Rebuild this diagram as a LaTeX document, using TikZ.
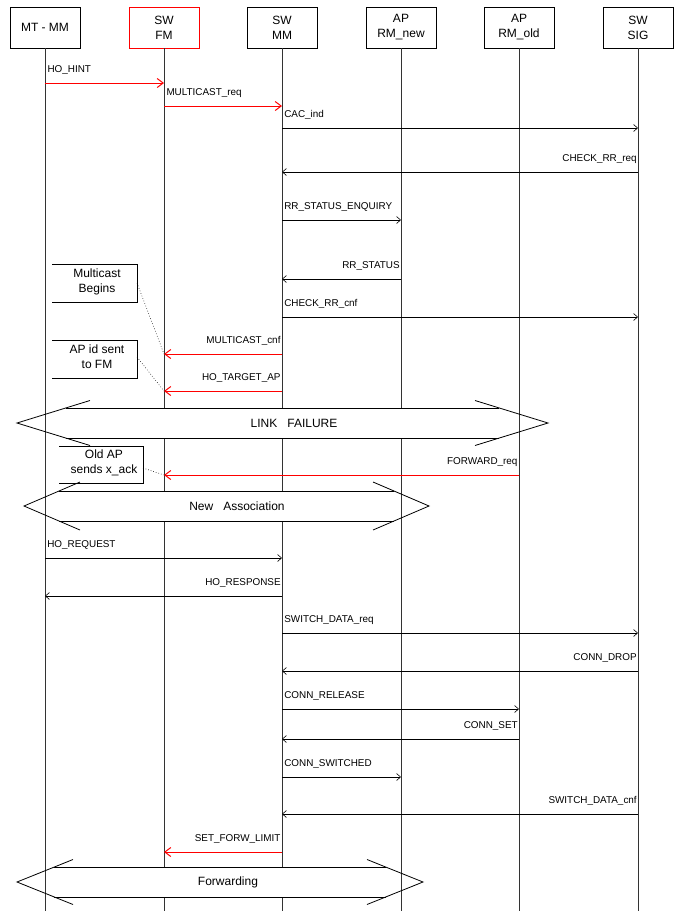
\documentclass[tikz,border=0pt]{standalone}
\usepackage{fontspec}
\setmainfont{Liberation Sans}
\usetikzlibrary{arrows.meta,calc}
\tikzset{
  antet/.style    = {draw, minimum width=70pt, minimum height=41pt, align=center,
                     inner sep=0pt, font=\fontsize{12}{15}\selectfont},
  antetrosu/.style= {antet, draw=red},
  viata/.style    = {draw=black!80, line width=0.6pt},
  mesaj/.style    = {-{Straight Barb[length=4pt,width=7pt]}, line width=0.6pt},
  mesajrosu/.style= {-{Straight Barb[length=6pt,width=9pt]}, red, line width=1pt},
  etdr/.style     = {font=\fontsize{9.9}{11}\selectfont, inner sep=0pt,
                     anchor=base west, shift={(2pt,11pt)}, text=black},
  etst/.style     = {font=\fontsize{9.9}{11}\selectfont, inner sep=0pt,
                     anchor=base east, shift={(-1pt,11pt)}, text=black},
  nota/.style     = {align=center, inner sep=0pt, font=\fontsize{12}{15}\selectfont},
  notalinie/.style= {line width=0.6pt},
  punctat/.style  = {dash pattern=on 0.7pt off 2pt, line width=0.5pt},
  banda/.style    = {line width=0.8pt},
  bandatext/.style= {inner sep=0pt, font=\fontsize{12}{15}\selectfont}
}
% banda: nume, y, varf stanga, varf dreapta, dx, dy, x text, text
\newcommand{\banda}[8]{%
  \pgfmathsetmacro\bh{#5*15/#6}
  \fill[white] (#3+\bh,#2-15) rectangle (#4-\bh,#2+15);
  \draw[banda] (#3+\bh,#2-15) -- (#4-\bh,#2-15) (#3+\bh,#2+15) -- (#4-\bh,#2+15);
  \draw[banda] (#3+#5,#2-#6) -- (#3,#2) -- (#3+#5,#2+#6);
  \draw[banda] (#4-#5,#2-#6) -- (#4,#2) -- (#4-#5,#2+#6);
  \node[bandatext] (#1) at (#7,#2) {#8};
}

\begin{document}
\begin{tikzpicture}[x=1pt, y=-1pt]
  \useasboundingbox (0,0) rectangle (673,911);

  % antete
  \node[antet]     (mtmm)  at (45,27.5)  {MT - MM};
  \node[antetrosu] (swfm)  at (164,27.5) {SW\\FM};
  \node[antet]     (swmm)  at (282,27.5) {SW\\MM};
  \node[antet]     (rmnew) at (401,27.5) {AP\\RM\_new};
  \node[antet]     (rmold) at (519,27.5) {AP\\RM\_old};
  \node[antet]     (swsig) at (638,27.5) {SW\\SIG};

  \foreach \n in {mtmm,swfm,swmm,rmnew,rmold,swsig}
    \draw[viata] (\n.south) -- (\n |- 0,911);

  % mesaje
  \draw[mesajrosu] (mtmm |- 0,83) node[etdr] (hohint) {HO\_HINT} -- (swfm |- 0,83);
  \draw[mesajrosu] (swfm |- 0,106) node[etdr] (mcreq) {MULTICAST\_req} -- (swmm |- 0,106);
  \draw[mesaj] (swmm |- 0,128) node[etdr] (cacind) {CAC\_ind} -- (swsig |- 0,128);
  \draw[mesaj] (swsig |- 0,172) node[etst] (chkreq) {CHECK\_RR\_req} -- (swmm |- 0,172);
  \draw[mesaj] (swmm |- 0,220) node[etdr] (rrenq) {RR\_STATUS\_ENQUIRY} -- (rmnew |- 0,220);
  \draw[mesaj] (rmnew |- 0,279) node[etst] (rrstat) {RR\_STATUS} -- (swmm |- 0,279);
  \draw[mesaj] (swmm |- 0,317) node[etdr] (chkcnf) {CHECK\_RR\_cnf} -- (swsig |- 0,317);
  \draw[mesajrosu] (swmm |- 0,354) node[etst] (mccnf) {MULTICAST\_cnf} -- (swfm |- 0,354);
  \draw[mesajrosu] (swmm |- 0,391) node[etst] (hotarget) {HO\_TARGET\_AP} -- (swfm |- 0,391);

  % note
  \node[nota] (nmc) at (97,282) {Multicast\\Begins};
  \draw[notalinie] (52,264) -| (137,302) -- (52,302);
  \draw[punctat] (137,283) -- (swfm |- 0,354);
  \node[nota] (napid) at (97,357) {AP id sent\\to FM};
  \draw[notalinie] (52,340) -| (137,378) -- (52,378);
  \draw[punctat] (137,357) -- (swfm |- 0,391);

  \banda{linkfail}{423}{17}{548}{73}{22.5}{294}{LINK\ \ \ FAILURE}

  \draw[mesajrosu] (rmold |- 0,475) node[etst] (fwdreq) {FORWARD\_req} -- (swfm |- 0,475);
  \node[nota] (noldap) at (104,463) {Old AP\\sends x\_ack};
  \draw[notalinie] (59,446) -| (143,483) -- (59,483);
  \draw[punctat] (143,468) -- (swfm |- 0,475);

  \banda{newassoc}{506}{24}{429}{56}{24}{237}{New\ \ \ Association}

  \draw[mesaj] (mtmm |- 0,558) node[etdr] (horeq) {HO\_REQUEST} -- (swmm |- 0,558);
  \draw[mesaj] (swmm |- 0,596) node[etst] (horesp) {HO\_RESPONSE} -- (mtmm |- 0,596);
  \draw[mesaj] (swmm |- 0,633) node[etdr] (swreq) {SWITCH\_DATA\_req} -- (swsig |- 0,633);
  \draw[mesaj] (swsig |- 0,671) node[etst] (conndrop) {CONN\_DROP} -- (swmm |- 0,671);
  \draw[mesaj] (swmm |- 0,709) node[etdr] (connrel) {CONN\_RELEASE} -- (rmold |- 0,709);
  \draw[mesaj] (rmold |- 0,739) node[etst] (connset) {CONN\_SET} -- (swmm |- 0,739);
  \draw[mesaj] (swmm |- 0,777) node[etdr] (connsw) {CONN\_SWITCHED} -- (rmnew |- 0,777);
  \draw[mesaj] (swsig |- 0,814) node[etst] (swcnf) {SWITCH\_DATA\_cnf} -- (swmm |- 0,814);
  \draw[mesajrosu] (swmm |- 0,852) node[etst] (setfw) {SET\_FORW\_LIMIT} -- (swfm |- 0,852);

  \banda{forward}{882}{17}{423}{56}{22.5}{228}{Forwarding}
\end{tikzpicture}
\end{document}
